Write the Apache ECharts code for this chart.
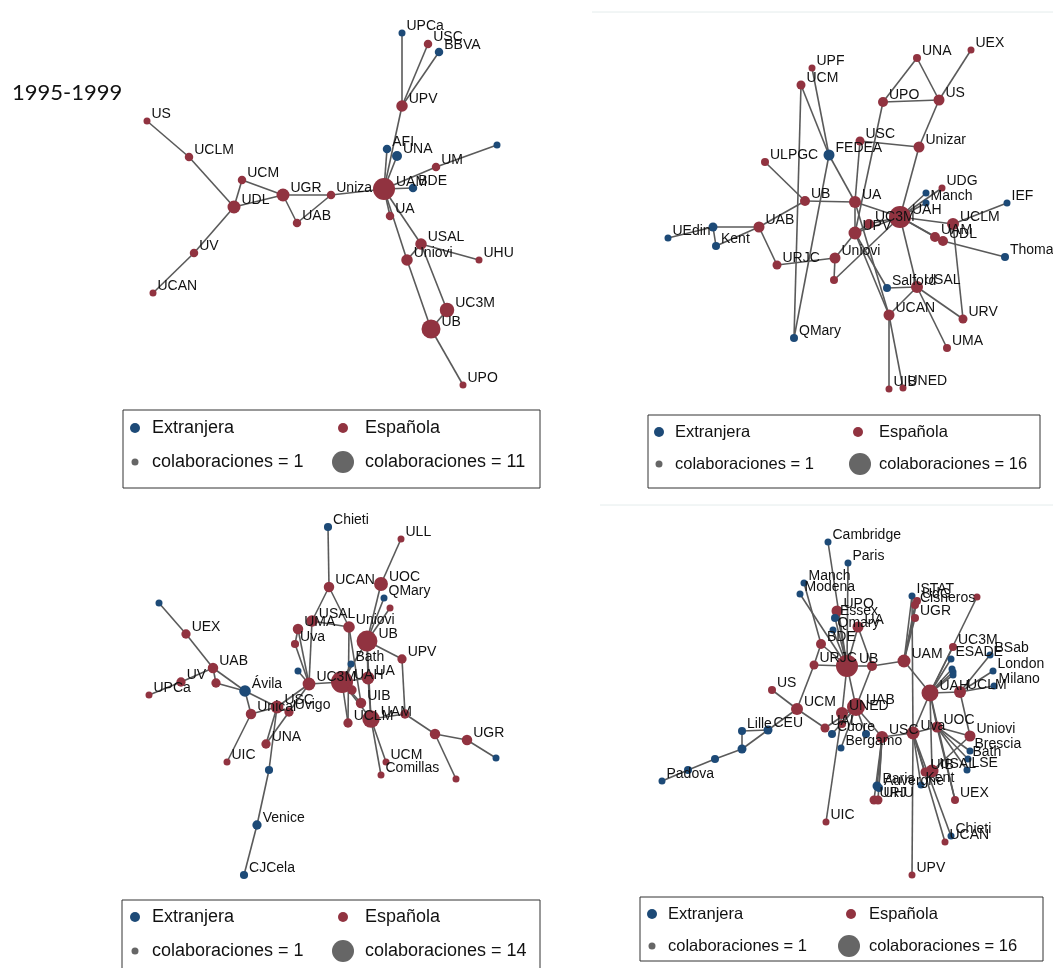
<!DOCTYPE html>
<html><head><meta charset="utf-8">
<script src="https://cdn.jsdelivr.net/npm/echarts@6/dist/echarts.min.js"></script>
<style>html,body{margin:0;padding:0;background:#fff}#c{width:1053px;height:968px}</style>
</head><body><div id="c"></div>
<script>
// ---------- Panel 1 (1995-1999) ----------
const p1Names = ['US','UCLM','UCM','UDL','UGR','UAB','UV','UCAN','Uniza','UPCa','USC','BBVA','UPV','AFI','UNA','','UM','UAM','BDE','UA','USAL','Uniovi','UHU','UC3M','UB','UPO'];
const p1X = [147,189,242,234,283,297,194,153,331,402,428,439,402,387,397,497,436,384,413,390,421,407,479,447,431,463];
const p1Y = [121,157,180,207,195,223,253,293,195,33,44,52,106,149,156,145,167,189,188,216,244,260,260,310,329,385];
const p1Type = ['S','S','S','S','S','S','S','S','S','F','S','F','S','F','F','F','S','S','F','S','S','S','S','S','S','S'];
const p1Collab = [1,2,2,5,5,2,2,1,2,1,2,2,4,2,3,1,2,11,2,2,4,4,1,6,9,1];
const p1Links = [[0,1],[1,3],[3,2],[2,4],[3,4],[3,6],[6,7],[4,5],[4,8],[5,8],[8,17],[17,12],[12,9],[12,10],[12,11],[17,13],[17,14],[17,16],[16,15],[17,18],[17,19],[17,20],[17,21],[20,21],[20,22],[20,23],[21,24],[23,24],[24,25]];
const p1Max = 11;

// ---------- Panel 2 ----------
const p2Names = ['UPF','UCM','FEDEA','ULPGC','UB','UA','UAB','','UEdin','Kent','UPV','UC3M','URJC','Uniovi','','QMary','UNA','UEX','UPO','US','USC','Unizar','UDG','','Manch','UAH','UCLM','UAM','UDL','IEF','Thomas','Salford','USAL','UCAN','URV','UMA','UIB','UNED'];
const p2X = [812,801,829,765,805,855,759,713,668,716,855,869,777,835,834,794,917,971,883,939,860,919,942,926,926,900,953,935,943,1007,1005,887,917,889,963,947,889,903];
const p2Y = [68,85,155,162,201,202,227,227,238,246,233,224,265,258,280,338,58,50,102,100,141,147,188,193,203,217,224,237,241,203,257,288,287,315,319,348,389,388];
const p2Type = ['S','S','F','S','S','S','S','F','F','F','S','S','S','S','S','F','S','S','S','S','S','S','S','F','F','S','S','S','S','F','F','F','S','S','S','S','S','S'];
const p2Collab = [1,3,5,2,4,6,5,3,1,2,7,4,3,5,2,2,2,1,4,5,3,5,1,1,1,16,6,4,4,1,2,2,6,5,3,2,1,1];
const p2Links = [[16,18],[16,19],[18,19],[19,17],[19,21],[21,20],[21,25],[18,10],[20,5],[1,15],[1,2],[0,2],[2,5],[2,15],[3,4],[4,5],[4,6],[6,7],[6,9],[7,9],[7,8],[6,12],[12,13],[13,14],[13,10],[10,25],[5,25],[5,10],[14,25],[10,31],[10,33],[5,33],[25,32],[32,31],[32,33],[32,34],[32,35],[33,36],[33,37],[25,24],[25,23],[25,22],[25,26],[26,29],[25,27],[25,28],[28,30],[26,34],[25,11],[11,10]];
const p2Max = 16;

// ---------- Panel 3 ----------
const p3Names = ['Chieti','UCAN','ULL','UOC','QMary','','Uniovi','UB','USAL','UMA','Uva','','UC3M','UAH','UA','Bath','UIB','','UCLM','UAM','UPV','','','UGR','','','UCM','Comillas','','UEX','UAB','UV','UPCa','','Ávila','Unical','USC','Uvigo','UNA','UIC','','Venice','CJCela'];
const p3X = [328,329,401,381,384,390,349,367,312,298,295,298,309,342,368,351,361,352,348,371,402,405,435,467,496,456,386,381,159,186,213,181,149,216,245,251,277,289,266,227,269,257,244];
const p3Y = [527,587,539,584,598,608,627,641,621,629,644,671,684,682,678,664,703,690,723,719,659,714,734,740,758,779,762,775,603,634,668,682,695,683,691,714,707,712,744,762,770,825,875];
const p3Type = ['F','S','S','S','F','S','S','S','S','S','S','F','S','S','S','F','S','S','S','S','S','S','S','S','F','S','S','S','F','S','S','S','S','S','F','S','S','S','S','S','F','F','F'];
const p3Collab = [2,4,1,7,1,1,5,13,5,4,2,1,6,14,6,1,4,3,3,10,3,3,4,4,1,1,1,1,1,3,4,3,1,3,5,4,6,3,3,1,2,3,2];
const p3Links = [[28,29],[29,30],[30,31],[31,32],[30,33],[30,34],[33,34],[34,36],[34,35],[35,36],[35,39],[36,38],[36,40],[40,41],[41,42],[36,37],[37,38],[36,12],[37,12],[12,10],[12,9],[12,11],[12,8],[12,13],[1,0],[1,8],[1,6],[8,6],[6,18],[6,16],[13,7],[7,3],[3,2],[7,4],[7,5],[7,20],[20,21],[7,14],[7,19],[13,14],[13,16],[13,17],[13,18],[13,19],[13,15],[14,19],[19,26],[19,27],[19,21],[21,22],[22,23],[23,24],[22,25],[9,10]];
const p3Max = 14;

// ---------- Panel 4 ----------
const p4Names = ['Cambridge','Paris','Manch','Modena','UPO','Essex','Qmary','BDE','UA','URJC','UB','','UAB','UAM','US','UCM','CEU','Lille','','','','Padova','UAL','UNED','','Cuore','Bergamo','UIC','','USC','Uva','UOC','Uniovi','UAH','UCLM','UC3M','ESADE','','','','BSab','London','Milano','ISTAT','UdG','Cisneros','','UGR','Brescia','Bath','LSE','USAL','UIB','Kent','Paris','Auvergne','URJ','UHU','UEX','Chieti','UCAN','UPV'];
const p4X = [828,848,804,800,837,835,833,821,858,814,847,872,856,904,772,797,768,742,742,715,688,662,825,842,842,832,841,826,866,882,913,937,970,930,960,953,951,952,953,953,990,993,994,912,917,915,977,915,970,968,967,932,925,921,877,879,874,878,955,951,945,912];
const p4Y = [542,563,583,594,611,618,630,644,627,665,666,666,707,661,690,709,730,731,749,759,770,781,728,713,724,734,748,822,734,737,733,727,736,693,692,647,659,669,672,675,655,671,686,596,601,605,597,618,751,759,770,771,772,785,786,788,800,800,800,836,842,875];
const p4Type = ['F','F','F','F','S','F','F','S','S','S','S','S','S','S','S','S','F','F','F','F','F','F','S','S','S','F','F','S','F','S','S','S','S','S','S','S','F','F','F','F','F','F','F','F','S','S','S','S','F','F','F','S','S','F','F','F','S','S','S','F','S','S'];
const p4Collab = [1,1,1,1,5,2,1,4,5,3,16,4,12,7,2,6,3,2,3,2,2,1,3,6,2,2,1,1,2,6,7,5,5,11,6,2,1,1,1,1,1,1,1,1,2,2,1,2,1,1,1,7,3,1,3,2,3,3,2,1,1,1];
const p4Links = [[0,10],[1,10],[2,7],[3,10],[4,10],[5,10],[6,10],[7,10],[7,9],[9,10],[8,10],[8,11],[10,11],[10,12],[11,12],[11,13],[9,15],[15,14],[15,16],[15,22],[16,17],[16,18],[17,18],[18,19],[19,20],[20,21],[10,23],[23,27],[12,23],[12,22],[12,24],[12,25],[12,26],[12,29],[12,28],[29,54],[29,56],[29,55],[29,57],[13,43],[13,44],[13,45],[13,47],[13,33],[30,43],[30,61],[33,46],[33,35],[33,36],[33,37],[33,38],[33,39],[33,34],[34,40],[34,41],[34,42],[34,32],[33,30],[33,31],[33,51],[33,58],[30,31],[31,32],[31,48],[31,49],[31,50],[32,51],[30,52],[30,53],[30,60],[30,59],[31,58],[30,29]];
const p4Max = 16;

const legendMax = [11,16,14,16];

const RED = '#913340', BLUE = '#1D4A77', GREY = '#666666', EDGE = '#5a5a5a';

function sizeOf(c, cmax){ return 7 + 15*(c-1)/(cmax-1); }

function makeSeries(names, xs, ys, types, collab, links, cmax){
  const data = names.map((n,i)=>({
    id: 'n'+i, name: n,
    value: [xs[i], ys[i]],
    symbolSize: sizeOf(collab[i], cmax),
    itemStyle: {color: types[i]==='F' ? BLUE : RED}
  }));
  return {
    type:'graph', coordinateSystem:'cartesian2d', xAxisIndex:0, yAxisIndex:0,
    symbol:'circle', data: data,
    links: links.map(l=>({source:l[0], target:l[1]})),
    lineStyle:{color:EDGE, width:1.6, opacity:1, curveness:0},
    label:{show:true, position:'right', distance:1, offset:[0,-7], formatter:'{b}',
      fontFamily:'Liberation Sans, Arial, sans-serif', fontSize:14, color:'#111'},
    emphasis:{disabled:true}, silent:true, animation:false
  };
}

function legendBox(x, y, w, h, r1, r2, c1dot, c1txt, c2dotS, c2dotB, c2txt, maxC, fs){
  const tf = {fontFamily:'Liberation Sans, Arial, sans-serif', fontSize:fs, fill:'#111', verticalAlign:'middle'};
  return [
    {type:'rect', shape:{x:x, y:y, width:w, height:h}, style:{fill:'#fff', stroke:'#333', lineWidth:1}},
    {type:'circle', shape:{cx:c1dot, cy:r1, r:5}, style:{fill:BLUE}},
    {type:'text', x:c1txt, y:r1, style:Object.assign({text:'Extranjera'}, tf)},
    {type:'circle', shape:{cx:c2dotS, cy:r1, r:5}, style:{fill:RED}},
    {type:'text', x:c2txt, y:r1, style:Object.assign({text:'Española'}, tf)},
    {type:'circle', shape:{cx:c1dot, cy:r2, r:3.5}, style:{fill:GREY}},
    {type:'text', x:c1txt, y:r2, style:Object.assign({text:'colaboraciones = 1'}, tf)},
    {type:'circle', shape:{cx:c2dotB, cy:r2, r:11}, style:{fill:GREY}},
    {type:'text', x:c2txt, y:r2, style:Object.assign({text:'colaboraciones = ' + maxC}, tf)}
  ];
}

const chart = echarts.init(document.getElementById('c'), null, {renderer:'canvas'});
const graphics = [].concat(
  [{type:'line', shape:{x1:592, y1:12, x2:1053, y2:12}, style:{stroke:'#e4ecec', lineWidth:1}},
   {type:'line', shape:{x1:600, y1:505, x2:1053, y2:505}, style:{stroke:'#e4ecec', lineWidth:1}},
   {type:'text', x:12, y:93, style:{text:'1995-1999', fontFamily:'Lato, Liberation Sans, sans-serif', fontSize:22, fill:'#111', verticalAlign:'middle'}}],
  legendBox(123,410,417,78, 428,462, 135,152, 343,343,365, legendMax[0], 18),
  legendBox(648,415,392,73, 432,464, 659,675, 858,860,879, legendMax[1], 16.5),
  legendBox(122,900,418,80, 917,951, 135,152, 343,343,365, legendMax[2], 18),
  legendBox(640,897,403,64, 914,946, 652,668, 851,849,869, legendMax[3], 16.5)
);

chart.setOption({
  animation:false,
  backgroundColor:'#fff',
  grid:{left:0, right:0, top:0, bottom:0},
  xAxis:{type:'value', min:0, max:1053, show:false},
  yAxis:{type:'value', min:0, max:968, inverse:true, show:false},
  series:[
    makeSeries(p1Names,p1X,p1Y,p1Type,p1Collab,p1Links,p1Max),
    makeSeries(p2Names,p2X,p2Y,p2Type,p2Collab,p2Links,p2Max),
    makeSeries(p3Names,p3X,p3Y,p3Type,p3Collab,p3Links,p3Max),
    makeSeries(p4Names,p4X,p4Y,p4Type,p4Collab,p4Links,p4Max)
  ],
  graphic: graphics
});
</script>
</body></html>
